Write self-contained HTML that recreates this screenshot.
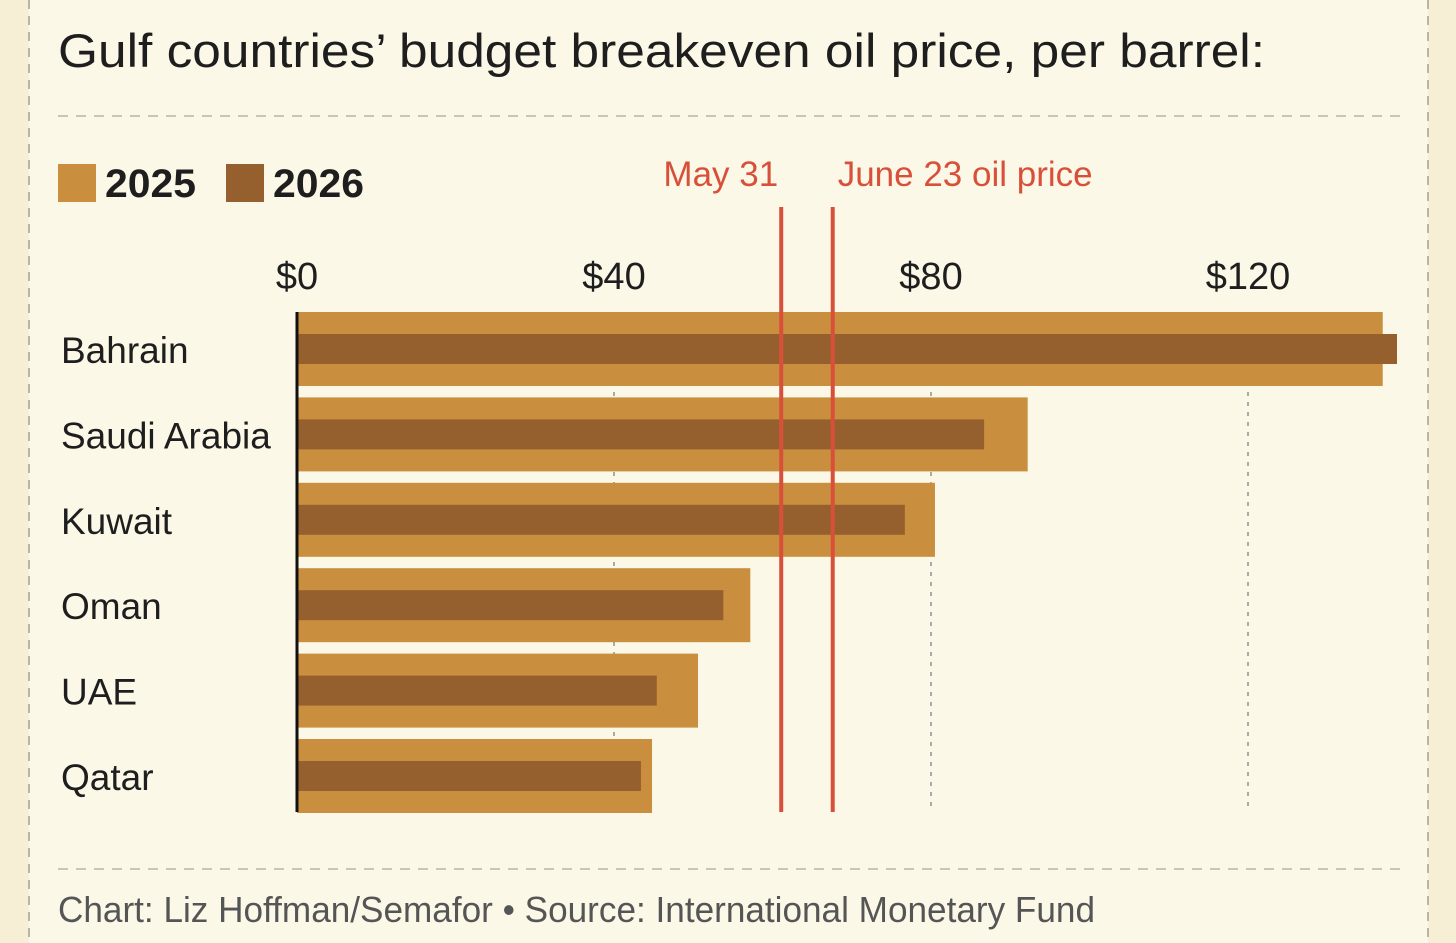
<!DOCTYPE html>
<html><head><meta charset="utf-8"><style>
html,body{margin:0;padding:0;width:1456px;height:943px;overflow:hidden;background:#f7efd5;}
svg{display:block}
text{font-family:"Liberation Sans",sans-serif;}
</style></head><body>
<svg width="1456" height="943">
<rect x="29" y="0" width="1399" height="943" fill="#fbf8e8"/>
<line x1="29" y1="0" x2="29" y2="943" stroke="#b8b4a8" stroke-width="2" stroke-dasharray="9,7"/>
<line x1="1428" y1="0" x2="1428" y2="943" stroke="#b8b4a8" stroke-width="2" stroke-dasharray="9,7"/>
<text x="58" y="67" font-size="47" fill="#1e1e1e" textLength="1207" lengthAdjust="spacingAndGlyphs">Gulf countries’ budget breakeven oil price, per barrel:</text>
<line x1="58" y1="116" x2="1400" y2="116" stroke="#c8c6bc" stroke-width="2" stroke-dasharray="10,8"/>
<g>
<rect x="58" y="164" width="38" height="38" fill="#c98f3e"/>
<text x="105" y="197" font-size="40" font-weight="bold" fill="#1e1e1e" textLength="91" lengthAdjust="spacingAndGlyphs">2025</text>
<rect x="226" y="164" width="38" height="38" fill="#95602e"/>
<text x="273" y="197" font-size="40" font-weight="bold" fill="#1e1e1e" textLength="91" lengthAdjust="spacingAndGlyphs">2026</text>
</g>
<g id="plot"></g>
<line x1="58" y1="869" x2="1400" y2="869" stroke="#c8c6bc" stroke-width="2" stroke-dasharray="10,8"/>
<text x="58" y="922" font-size="36" fill="#555" textLength="1037" lengthAdjust="spacingAndGlyphs">Chart: Liz Hoffman/Semafor • Source: International Monetary Fund</text>
</svg>
<script>
const categories=["Bahrain","Saudi Arabia","Kuwait","Oman","UAE","Qatar"];
const values2025=[137,92.2,80.5,57.2,50.6,44.8];
const values2026=[138.8,86.7,76.7,53.8,45.4,43.4];
const ticks=[0,40,80,120];
const tickLabels=["$0","$40","$80","$120"];
const refValues=[61.1,67.6];
const refLabels=["May 31","June 23 oil price"];

const NS="http://www.w3.org/2000/svg";
const g=document.getElementById('plot');
const x0=297, pxPer=317/40;
const xs=v=>x0+v*pxPer;
const rowTop=i=>312+i*85.4;
function el(tag,attrs,text){const e=document.createElementNS(NS,tag);for(const k in attrs)e.setAttribute(k,attrs[k]);if(text!==undefined)e.textContent=text;g.appendChild(e);return e;}
ticks.forEach((t,i)=>{
  if(t>0){const l=el('line',{x1:xs(t),y1:312,x2:xs(t),y2:812,stroke:'#aaa','stroke-width':2,'stroke-dasharray':'4,6'});
  
  }
  const tx=el('text',{x:xs(t),y:289,'font-size':38,fill:'#1e1e1e','text-anchor':'middle'},tickLabels[i]);
  
  
});
categories.forEach((c,i)=>{
  const y=rowTop(i);
  const b1=el('rect',{x:x0,y:y,width:xs(values2025[i])-x0,height:74,fill:'#c98f3e'});
  
  
  const b2=el('rect',{x:x0,y:y+22,width:xs(values2026[i])-x0,height:30,fill:'#95602e'});
  
  
  const t=el('text',{x:61,y:y+51,'font-size':37,fill:'#1e1e1e'},c);
  
  
});
const ax=el('line',{x1:x0,y1:312,x2:x0,y2:812,stroke:'#111','stroke-width':3});


refValues.forEach((v,i)=>{
  const l=el('line',{x1:xs(v),y1:207,x2:xs(v),y2:812,stroke:'#d9503a','stroke-width':4});
  
  
  const t=el('text',{x:i==0?xs(v)-3:xs(v)+5,y:186,'font-size':35,fill:'#d9503a','text-anchor':i==0?'end':'start'},refLabels[i]);
  
  
});
</script>
</body></html>
